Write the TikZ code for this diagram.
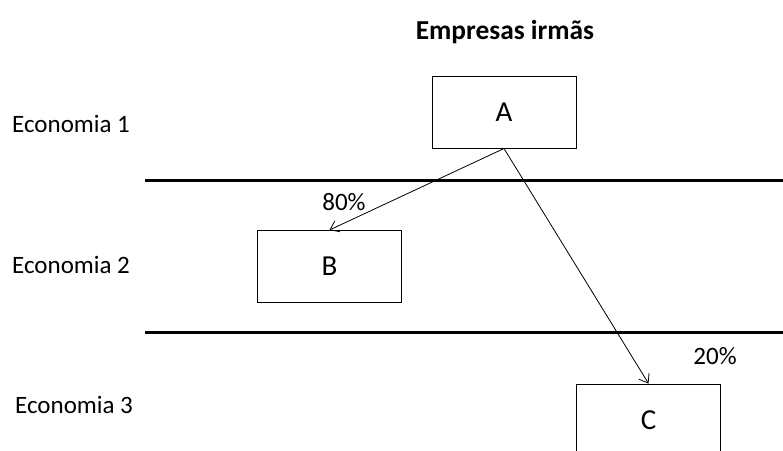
\documentclass[tikz,border=0pt]{standalone}
\usepackage{fontspec}
\setmainfont{Carlito}
\usetikzlibrary{arrows.meta}

\begin{document}
\begin{tikzpicture}[x=1pt,y=-1pt,
    every node/.style={font=\fontsize{25}{30}\selectfont,inner sep=0pt},
    empresa/.style={draw,line width=1pt,minimum width=144pt,minimum height=72pt,font=\fontsize{29}{34}\selectfont},
    fluxo/.style={-{Straight Barb[length=8pt,width=12pt]},line width=0.8pt}]
      \clip (0,0) rectangle (783,450);
      \node[font=\fontsize{27.4}{32}\selectfont\bfseries] (titulo) at (505,32) {Empresas irmãs};
      % economias separadas por linhas
      \node[anchor=west] (eco1) at (12,124) {Economia 1};
      \node[anchor=west] (eco2) at (12,265) {Economia 2};
      \node[anchor=west] (eco3) at (15,405) {Economia 3};
      \draw[line width=3pt] (145,180)--(783,180);
      \draw[line width=3pt] (145,332)--(783,332);
      % empresas
      \node[empresa] (A) at (504,112) {A};
      \node[empresa] (B) at (329.5,266.5) {B};
      \node[empresa] (C) at (648.5,420) {C};
      \draw[fluxo] (A.south)--(B.north);
      \draw[fluxo] (A.south)--(C.north);
      \node (p80) at (344,202) {80\%};
      \node (p20) at (715,356) {20\%};
    \end{tikzpicture}
\end{document}
